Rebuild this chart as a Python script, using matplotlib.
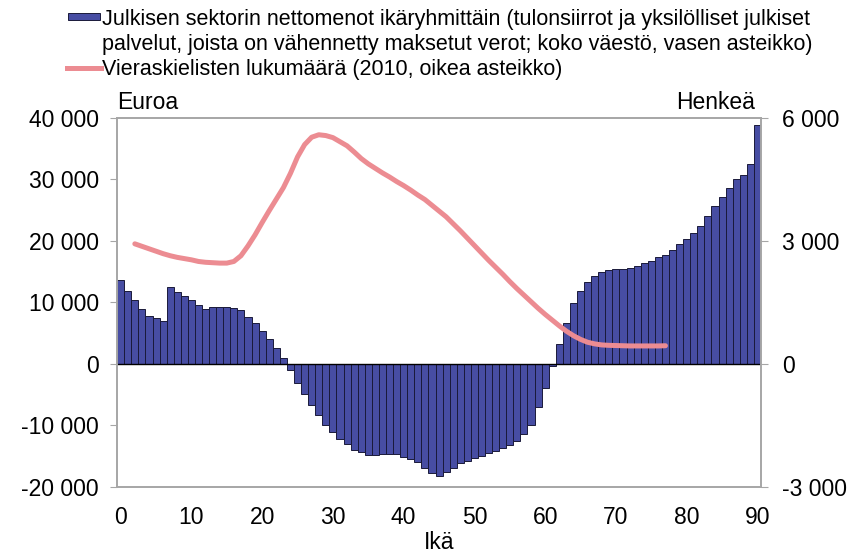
import matplotlib
matplotlib.use("Agg")
import matplotlib.pyplot as plt
from matplotlib.patches import Rectangle
from matplotlib.lines import Line2D

plt.rcParams['font.family'] = ['Liberation Sans', 'DejaVu Sans']

# ikä 0..90, nettomenot (euroa)
ages = list(range(0, 91))
net_spending = [
    13660, 11900, 10330, 9020, 7870, 7430, 7050, 12570, 11750, 10980,
    10330, 9670, 9020, 9230, 9290, 9290, 9180, 8740, 7600, 6610,
    5300, 3990, 2570, 980, -980, -3170, -4810, -6670, -8310, -9840,
    -11090, -12130, -13000, -13930, -14320, -14750, -14750, -14640, -14640, -14640,
    -15080, -15520, -15960, -16940, -17710, -18140, -17490, -16940, -16170, -15700,
    -15300, -14920, -14480, -14100, -13660, -13110, -12460, -11370, -9840, -7000,
    -3930, -270, 3170, 6670, 9950, 11910, 13390, 14320, 15030, 15300,
    15410, 15410, 15570, 16010, 16390, 16670, 17380, 17650, 18580, 19510,
    20330, 21310, 22400, 24040, 25680, 27160, 28580, 30050, 30710, 32460,
    38910,
]

# vieraskieliset 2010, ikä 2..77 (henkeä)
line_ages = list(range(2, 78))
foreign_speakers = [
    2930, 2870, 2810, 2750, 2690, 2640, 2600, 2570, 2540, 2500,
    2480, 2470, 2460, 2460, 2500, 2640, 2880, 3150, 3450, 3740,
    4020, 4300, 4650, 5050, 5350, 5530, 5590, 5570, 5520, 5420,
    5320, 5170, 5010, 4880, 4770, 4660, 4560, 4450, 4350, 4240,
    4120, 4010, 3870, 3730, 3590, 3420, 3250, 3070, 2890, 2710,
    2530, 2360, 2190, 2010, 1840, 1680, 1520, 1360, 1210, 1070,
    930, 800, 690, 600, 530, 490, 465, 455, 450, 445,
    440, 440, 440, 440, 440, 445,
]

left_ticks = [-20000, -10000, 0, 10000, 20000, 30000, 40000]
right_ticks = [-3000, 0, 3000, 6000]
x_ticks = list(range(0, 91, 10))

legend_rows = [
    'Julkisen sektorin nettomenot ikäryhmittäin (tulonsiirrot ja yksilölliset julkiset',
    'palvelut, joista on vähennetty maksetut verot; koko väestö, vasen asteikko)',
    'Vieraskielisten lukumäärä (2010, oikea asteikko)',
]

bar_color = '#474DA3'
line_color = '#EC8C92'
grey = '#A6A6A6'
W, H = 855, 555

def fmt(v):
    return f"{v:,}".replace(",", " ")

fig = plt.figure(figsize=(8.55, 5.55), dpi=100)
ax = fig.add_axes([0.137, 0.1225, 0.753, 0.665])
ax.bar(ages, net_spending, width=1.0, color=bar_color, edgecolor='#1a1a3a', linewidth=0.7)
ax.set_xlim(-0.5, 90.5)
ax.set_ylim(-20000, 40000)
ax.set_yticks(left_ticks)
ax.set_yticklabels([fmt(v) for v in left_ticks], fontsize=16.5)
ax.set_xticks(x_ticks)
ax.set_xticklabels([str(v) for v in x_ticks], fontsize=16.5)
ax.tick_params(axis='x', length=0, pad=14)
ax.tick_params(axis='y', length=5, color=grey, pad=8)
ax.axhline(0, color='black', linewidth=1.0)
for s in ax.spines.values():
    s.set_color(grey)
    s.set_linewidth(1.2)
ax.set_xlabel('Ikä', fontsize=16.5, labelpad=1)

ax2 = ax.twinx()
ax2.plot(line_ages, foreign_speakers, color=line_color, linewidth=3.6, solid_capstyle='round')
ax2.set_ylim(-3000, 6000)
ax2.set_yticks(right_ticks)
ax2.set_yticklabels([fmt(v) for v in right_ticks], fontsize=16.5)
ax2.tick_params(axis='y', length=5, color=grey, pad=10)
for s in ax2.spines.values():
    s.set_color(grey)
    s.set_linewidth(1.2)

ax.text(0.0, 1.01, 'Euroa', transform=ax.transAxes, fontsize=16.5, ha='left', va='bottom')
ax.text(0.99, 1.01, 'Henkeä', transform=ax.transAxes, fontsize=16.5, ha='right', va='bottom')

# legend drawn by hand so the box sits on the first row
fig.patches.append(Rectangle((68 / W, 1 - 19.5 / H), 32 / W, 7 / H,
                             transform=fig.transFigure, facecolor=bar_color,
                             edgecolor='#1a1a3a', linewidth=0.7))
fig.lines.append(Line2D([67 / W, 101 / W], [1 - 68 / H, 1 - 68 / H],
                        transform=fig.transFigure, color=line_color, linewidth=3.6))
for row, base in zip(legend_rows, [25, 50, 75]):
    fig.text(102 / W, 1 - base / H, row, fontsize=15.5, ha='left', va='baseline')

fig.savefig('out.png', dpi=100)
